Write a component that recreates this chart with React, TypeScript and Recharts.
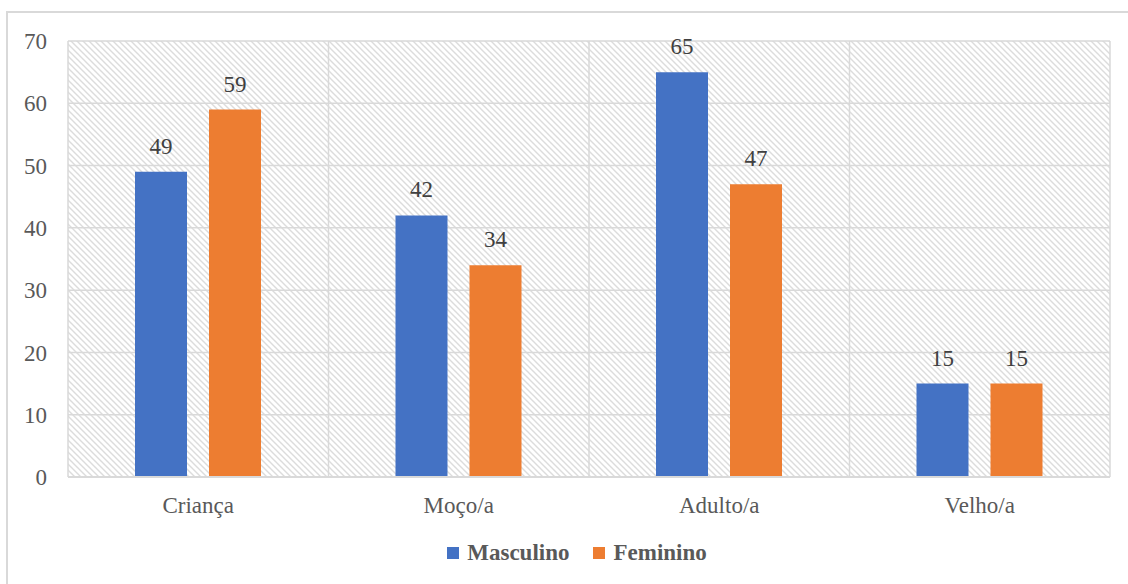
import React from 'react';
import { BarChart, Bar, XAxis, YAxis, CartesianGrid, Legend, LabelList } from 'recharts';

const categories = ['Criança', 'Moço/a', 'Adulto/a', 'Velho/a'];
const masculino = [49, 42, 65, 15];
const feminino = [59, 34, 47, 15];
const yTicks = [0, 10, 20, 30, 40, 50, 60, 70];

const BLUE = '#4472C4';
const ORANGE = '#ED7D31';
const GRID = '#d9d9d9';
const FONT = 'Liberation Serif, DejaVu Serif, serif';

const data = categories.map((name, i) => ({
  name,
  Masculino: masculino[i],
  Feminino: feminino[i],
}));

// boundaries between categories instead of lines through their centers
const boundaryLines = ({ offset }: any) => {
  const out: number[] = [];
  for (let i = 0; i <= categories.length; i++) {
    out.push(offset.left + (i * offset.width) / categories.length);
  }
  return out;
};

const LegendBox = () => (
  <div style={{ display: 'flex', justifyContent: 'center', alignItems: 'center', fontFamily: FONT, fontWeight: 'bold', fontSize: 23, color: '#595959', paddingLeft: 36, paddingTop: 3 }}>
    {[
      { label: 'Masculino', color: BLUE },
      { label: 'Feminino', color: ORANGE },
    ].map((item, i) => (
      <div key={item.label} style={{ display: 'flex', alignItems: 'center', marginLeft: i === 0 ? 0 : 24 }}>
        <span style={{ width: 12, height: 12, background: item.color, marginRight: 8, display: 'inline-block' }} />
        <span>{item.label}</span>
      </div>
    ))}
  </div>
);

export default function App() {
  return (
    <div style={{ position: 'absolute', left: 0, top: 0, width: 1128, height: 584, overflow: 'hidden', background: '#fff', fontFamily: FONT }}>
      <div style={{ position: 'absolute', left: 6, top: 11, width: 1140, height: 600, border: `2px solid ${GRID}` }} />
      <BarChart
        width={1128}
        height={584}
        data={data}
        margin={{ top: 41, right: 18, left: 8, bottom: 1 }}
        barSize={52}
        barGap={22}
        style={{ position: 'absolute', left: 0, top: 0 }}
      >
        <defs>
          <pattern id="hatch" patternUnits="userSpaceOnUse" width="6" height="6">
            <rect width="6" height="6" fill="#ffffff" />
            <path d="M-1,-1 L7,7 M-1,5 L1,7 M5,-1 L7,1" stroke="#dcdcdc" strokeWidth="1.4" />
          </pattern>
        </defs>
        <CartesianGrid
          stroke={GRID}
          strokeWidth={1.5}
          fill="url(#hatch)"
          fillOpacity={1}
          verticalCoordinatesGenerator={boundaryLines}
        />
        <XAxis
          dataKey="name"
          axisLine={{ stroke: GRID, strokeWidth: 2 }}
          tickLine={false}
          tickSize={0}
          tickMargin={20}
          height={60}
          tick={{ fontFamily: FONT, fontSize: 23, fill: '#595959' }}
        />
        <YAxis
          domain={[0, 70]}
          ticks={yTicks}
          axisLine={false}
          tickLine={false}
          tickSize={0}
          tickMargin={21}
          width={60}
          tick={{ fontFamily: FONT, fontSize: 23, fill: '#595959' }}
        />
        <Legend verticalAlign="bottom" height={46} content={<LegendBox />} />
        <Bar dataKey="Masculino" fill={BLUE} isAnimationActive={false}>
          <LabelList dataKey="Masculino" position="top" offset={18} style={{ fontFamily: FONT, fontSize: 23, fill: '#404040' }} />
        </Bar>
        <Bar dataKey="Feminino" fill={ORANGE} isAnimationActive={false}>
          <LabelList dataKey="Feminino" position="top" offset={18} style={{ fontFamily: FONT, fontSize: 23, fill: '#404040' }} />
        </Bar>
      </BarChart>
    </div>
  );
}
